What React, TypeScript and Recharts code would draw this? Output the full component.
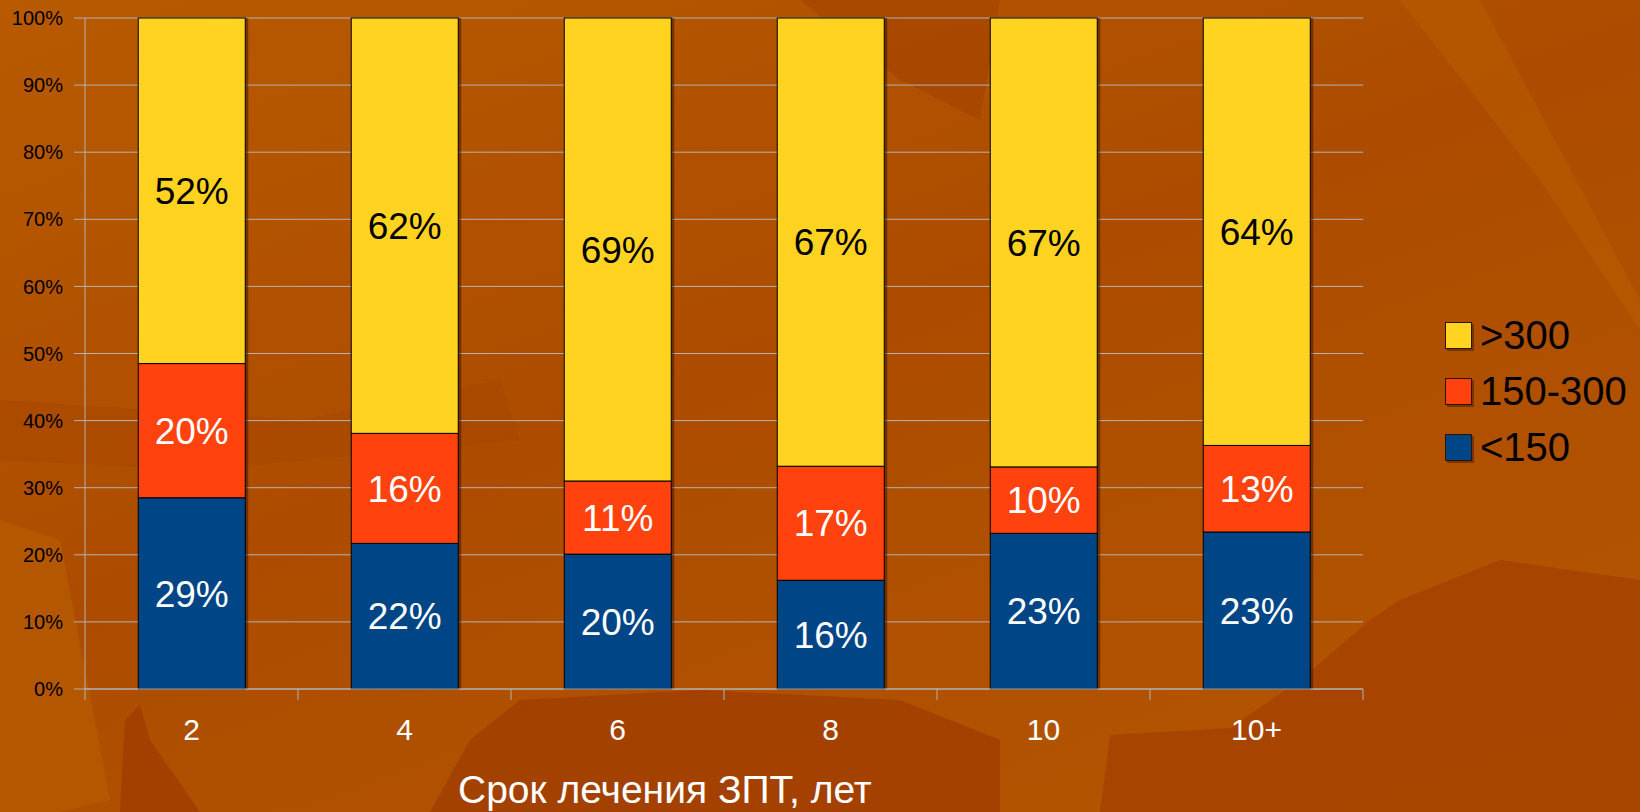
import React from "react";
import {
  BarChart,
  Bar,
  XAxis,
  YAxis,
  CartesianGrid,
  LabelList,
} from "recharts";

const categories = ["2", "4", "6", "8", "10", "10+"];
const under150 = [28.5, 21.7, 20.1, 16.2, 23.2, 23.4];
const from150to300 = [20.0, 16.4, 10.9, 17.0, 9.9, 12.9];
const over300 = [51.5, 61.9, 69.0, 66.8, 66.9, 63.7];
const yTicks = [0, 10, 20, 30, 40, 50, 60, 70, 80, 90, 100];

const seriesNames = ["<150", "150-300", ">300"];
const seriesColors = ["#004586", "#ff420e", "#ffd320"];
const xTitle = "Срок лечения ЗПТ, лет";

const FONT = "'Liberation Sans', Arial, Helvetica, sans-serif";
const GRID = "#b3b3b3";

const chartData = categories.map((name, i) => ({
  name,
  low: under150[i],
  mid: from150to300[i],
  high: over300[i],
}));

function ShadowBar(props: any) {
  const { x, y, width, height, fill } = props;
  if (!height || height <= 0) return null;
  return (
    <g>
      <rect x={x + 3} y={y} width={width} height={height} fill="rgba(40,10,0,0.45)" />
      <rect x={x} y={y} width={width} height={height} fill={fill} stroke="#000" strokeWidth={1} />
    </g>
  );
}

function XTick(props: any) {
  const { x, y, payload, index } = props;
  const half = payload?.offset ?? 106.5;
  return (
    <g>
      <line x1={x - half} x2={x - half} y1={y - 11} y2={y} stroke={GRID} strokeWidth={1} />
      {index === categories.length - 1 && (
        <line x1={x + half} x2={x + half} y1={y - 11} y2={y} stroke={GRID} strokeWidth={1} />
      )}
      <text x={x} y={y + 40} textAnchor="middle" fill="#fff" fontSize={30} fontFamily={FONT}>
        {payload.value}
      </text>
    </g>
  );
}

function LegendBox() {
  const order = [2, 1, 0];
  return (
    <div style={{ position: "absolute", left: 1445, top: 307, fontFamily: FONT }}>
      {order.map((i) => (
        <div key={seriesNames[i]} style={{ display: "flex", alignItems: "center", height: 56 }}>
          <div
            style={{
              width: 25,
              height: 25,
              background: seriesColors[i],
              border: "1px solid #2a1500",
              boxShadow: "2px 2px 0 rgba(40,10,0,0.4)",
            }}
          />
          <span style={{ marginLeft: 8, fontSize: 40, color: "#000", lineHeight: 1 }}>{seriesNames[i]}</span>
        </div>
      ))}
    </div>
  );
}

const fmt = (v: any) => `${Math.round(Number(v))}%`;

export default function App() {
  return (
    <div
      style={{
        position: "absolute",
        left: 0,
        top: 0,
        width: 1640,
        height: 812,
        overflow: "hidden",
        background: "linear-gradient(160deg, #b85a00 0%, #ad4c00 45%, #b45600 100%)",
        fontFamily: FONT,
      }}
    >
      {/* rough stand-in for the textured slide background */}
      <svg width={1640} height={812} style={{ position: "absolute", left: 0, top: 0 }}>
        <polygon points="430,812 470,740 520,700 700,690 900,700 1000,740 1000,812" fill="#9e3a00" opacity={0.7} />
        <polygon points="1100,812 1110,735 1230,728 1300,680 1370,620 1400,600 1500,560 1640,580 1640,812" fill="#a03c00" opacity={0.6} />
        <polygon points="120,812 125,720 140,705 150,740 200,812" fill="#9e3a00" opacity={0.7} />
        <polygon points="800,0 1000,0 980,120 900,80" fill="#a04000" opacity={0.5} />
        <polygon points="0,400 300,420 500,380 520,440 200,470 0,460" fill="#a64400" opacity={0.45} />
        <polygon points="1400,0 1480,0 1560,150 1640,300 1640,330 1540,180" fill="#c06400" opacity={0.35} />
        <polygon points="0,520 60,540 110,800 60,812 0,812" fill="#b96200" opacity={0.5} />
      </svg>
      <div style={{ position: "absolute", left: 0, top: 0 }}>
        <BarChart
          width={1640}
          height={812}
          data={chartData}
          margin={{ top: 18, right: 277, bottom: 63, left: 0 }}
          barCategoryGap="25%"
        >
          <CartesianGrid vertical={false} stroke={GRID} strokeWidth={1} />
          <XAxis
            dataKey="name"
            height={60}
            tickLine={false}
            tickSize={11}
            tickMargin={0}
            axisLine={{ stroke: GRID }}
            tick={<XTick />}
            interval={0}
          />
          <YAxis
            domain={[0, 100]}
            ticks={yTicks}
            tickFormatter={(v) => `${v}%`}
            width={85}
            tickSize={11}
            tickMargin={11}
            tickLine={{ stroke: GRID }}
            axisLine={{ stroke: GRID }}
            tick={{ fontSize: 20, fill: "#000", fontFamily: FONT }}
            interval={0}
          />
          <YAxis
            yAxisId="edge"
            orientation="right"
            width={0}
            tick={false}
            tickLine={false}
            axisLine={{ stroke: GRID }}
            domain={[0, 100]}
          />
          <Bar dataKey="low" name={seriesNames[0]} stackId="a" fill={seriesColors[0]} shape={<ShadowBar />} isAnimationActive={false}>
            <LabelList dataKey="low" position="center" formatter={fmt} fill="#fff" fontSize={37} fontFamily={FONT} />
          </Bar>
          <Bar dataKey="mid" name={seriesNames[1]} stackId="a" fill={seriesColors[1]} shape={<ShadowBar />} isAnimationActive={false}>
            <LabelList dataKey="mid" position="center" formatter={fmt} fill="#fff" fontSize={37} fontFamily={FONT} />
          </Bar>
          <Bar dataKey="high" name={seriesNames[2]} stackId="a" fill={seriesColors[2]} shape={<ShadowBar />} isAnimationActive={false}>
            <LabelList dataKey="high" position="center" formatter={fmt} fill="#000" fontSize={37} fontFamily={FONT} />
          </Bar>
        </BarChart>
      </div>
      <LegendBox />
      <div
        style={{
          position: "absolute",
          left: 458,
          top: 768,
          fontSize: 39,
          lineHeight: "44px",
          color: "#fff",
          whiteSpace: "nowrap",
        }}
      >
        {xTitle}
      </div>
    </div>
  );
}
